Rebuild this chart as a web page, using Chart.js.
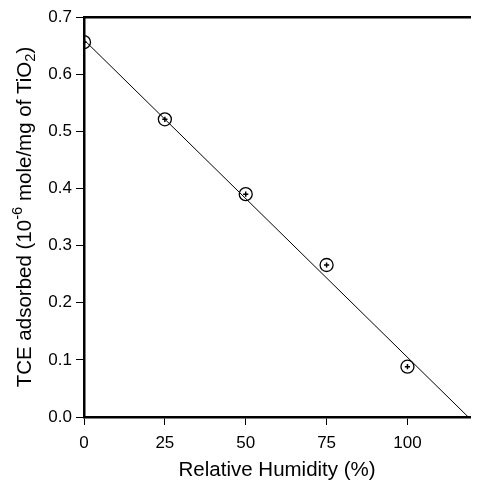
<!DOCTYPE html>
<html><head><meta charset="utf-8">
<script src="https://cdn.jsdelivr.net/npm/chart.js@4"></script>
<style>html,body{margin:0;padding:0;background:#fff}#w{width:478px;height:480px}</style>
</head><body><div id="w"><canvas id="c"></canvas></div>
<script>
const humidity = [0, 25, 50, 75, 100];
const tceAdsorbed = [0.656, 0.521, 0.390, 0.266, 0.088];
const fitLineX = [0, 118.8];
const fitLineY = [0.660, 0.0];
const xTicks = [0, 25, 50, 75, 100];
const yTicks = [0.0, 0.1, 0.2, 0.3, 0.4, 0.5, 0.6, 0.7];
const yTitleParts = [
  { t: 'TCE adsorbed (10', k: 'n' },
  { t: '-6', k: 'sup' },
  { t: ' mole/mg of TiO', k: 'n' },
  { t: '2', k: 'sub' },
  { t: ')', k: 'n' }
];

const pts = humidity.map((x, i) => ({x, y: tceAdsorbed[i]}));
const fit = fitLineX.map((x, i) => ({x, y: fitLineY[i]}));
const F = "'Liberation Sans', Arial, sans-serif";
const TS = 20.5;

const yTitlePlugin = {
  id: 'yTitle',
  afterDraw(chart) {
    const ctx = chart.ctx, a = chart.chartArea;
    const font = s => s + 'px ' + F;
    ctx.save();
    const widths = yTitleParts.map(p => {
      ctx.font = font(p.k === 'n' ? TS : TS * 0.72);
      return ctx.measureText(p.t).width;
    });
    const total = widths.reduce((s, w) => s + w, 0);
    const cy = (a.top + a.bottom) / 2;
    const baseX = 31;
    ctx.translate(baseX, cy);
    ctx.rotate(-Math.PI / 2);
    ctx.fillStyle = '#000';
    ctx.textBaseline = 'alphabetic';
    ctx.textAlign = 'left';
    let x = -total / 2;
    yTitleParts.forEach((p, i) => {
      ctx.font = font(p.k === 'n' ? TS : TS * 0.72);
      const dy = p.k === 'sup' ? -TS * 0.42 : (p.k === 'sub' ? TS * 0.2 : 0);
      ctx.fillText(p.t, x, dy);
      x += widths[i];
    });
    ctx.restore();
  }
};

new Chart(document.getElementById('c'), {
  type: 'scatter',
  data: { datasets: [
    { data: fit, showLine: true, borderColor: '#000', borderWidth: 1, pointRadius: 0, order: 3 },
    { data: pts, pointStyle: 'circle', pointRadius: 6.5, borderWidth: 1.3, borderColor: '#000', backgroundColor: 'rgba(255,255,255,0)', order: 2 },
    { data: pts, pointStyle: 'cross', pointRadius: 2.6, borderWidth: 1.5, borderColor: '#000', order: 1 }
  ]},
  options: {
    responsive: true, maintainAspectRatio: false, animation: false,
    layout: { padding: 0 },
    plugins: { legend: { display: false }, tooltip: { enabled: false } },
    scales: {
      x: {
        type: 'linear', min: 0, max: 119.4, position: 'bottom',
        afterBuildTicks: s => { s.ticks = xTicks.map(v => ({value: v})); },
        afterFit: s => { s.height = 63; },
        ticks: { color: '#000', font: { family: F, size: 17 }, padding: 8, maxRotation: 0 },
        grid: { drawOnChartArea: false, drawTicks: true, tickLength: 8, color: '#000', lineWidth: 1 },
        border: { display: true, color: '#000', width: 2.5 },
        title: { display: true, text: 'Relative Humidity (%)', color: '#000', font: { family: F, size: TS }, padding: { top: 0, bottom: -3 } }
      },
      x2: {
        type: 'linear', min: 0, max: 119.4, position: 'top',
        afterFit: s => { s.height = 17; },
        ticks: { display: false },
        grid: { display: false },
        border: { display: true, color: '#000', width: 2.5 }
      },
      y: {
        type: 'linear', min: 0, max: 0.7,
        afterBuildTicks: s => { s.ticks = yTicks.map(v => ({value: v})); },
        afterFit: s => { s.width = 84; },
        ticks: { color: '#000', font: { family: F, size: 17 }, padding: 4, callback: v => Number(v).toFixed(1) },
        grid: { drawOnChartArea: false, drawTicks: true, tickLength: 8, color: '#000', lineWidth: 1 },
        border: { display: true, color: '#000', width: 2.5 },
        title: { display: false }
      }
    }
  },
  plugins: [yTitlePlugin]
});
</script></body></html>
